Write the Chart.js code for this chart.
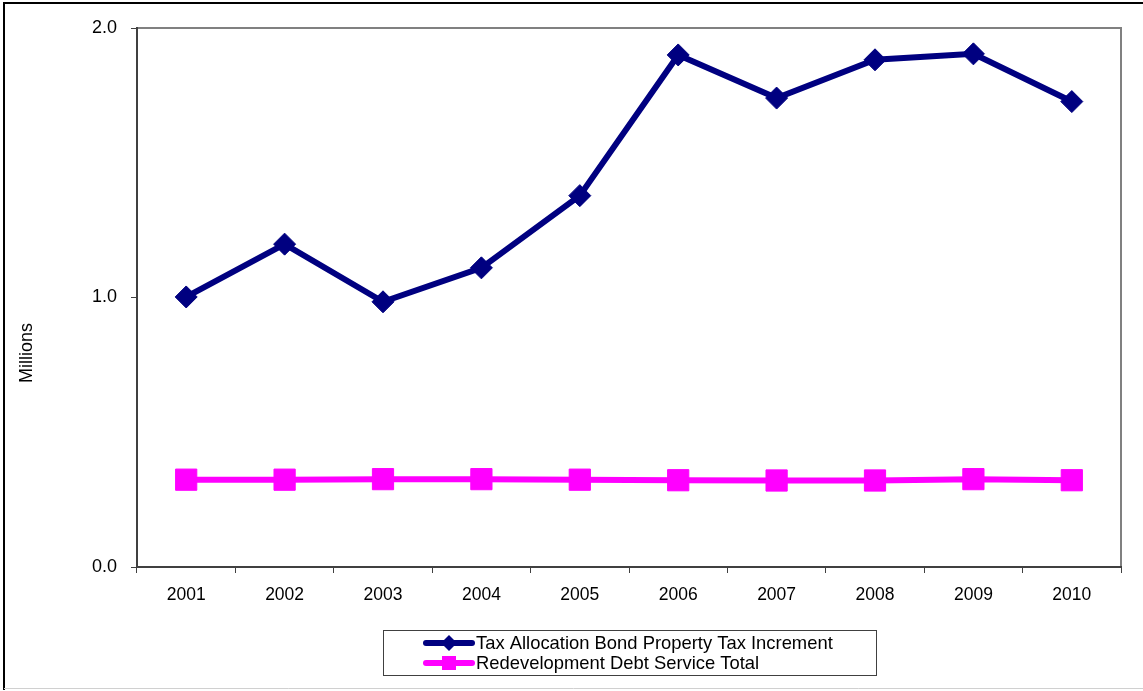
<!DOCTYPE html>
<html>
<head>
<meta charset="utf-8">
<script src="https://cdn.jsdelivr.net/npm/chart.js@4"></script>
<style>
  html, body { margin: 0; padding: 0; background: #fff; }
  #wrap { width: 1143px; height: 691px; position: relative; }
</style>
</head>
<body>
<div id="wrap"><canvas id="taxChart" width="1143" height="691"></canvas></div>
<script>
// chart data
const years = ['2001', '2002', '2003', '2004', '2005', '2006', '2007', '2008', '2009', '2010'];
const taxIncrement = [1.002, 1.198, 0.984, 1.11, 1.378, 1.9, 1.74, 1.882, 1.904, 1.727];
const debtService = [0.324, 0.324, 0.326, 0.326, 0.324, 0.322, 0.321, 0.321, 0.326, 0.322];
const yTicks = [0, 1, 2];

const FONT = '"Liberation Sans", Arial, sans-serif';

// frame, plot border, y title and the boxed legend
const decorations = {
    id: 'decorations',
    beforeDraw(chart) {
        const c = chart.ctx;
        const a = chart.chartArea;
        c.save();
        c.fillStyle = '#fff';
        c.fillRect(0, 0, chart.width, chart.height);
        // outer frame
        c.strokeStyle = '#000';
        c.lineWidth = 2;
        c.beginPath();
        c.moveTo(4, 690);
        c.lineTo(4, 3);
        c.lineTo(1143, 3);
        c.stroke();
        c.strokeStyle = '#d0d0d0';
        c.lineWidth = 1;
        c.beginPath();
        c.moveTo(4, 688.5);
        c.lineTo(1143, 688.5);
        c.stroke();
        // plot area border (top/right grey)
        c.strokeStyle = '#808080';
        c.lineWidth = 2;
        c.beginPath();
        c.moveTo(a.left, a.top);
        c.lineTo(a.right, a.top);
        c.lineTo(a.right, a.bottom);
        c.stroke();
        c.restore();
    },
    afterDraw(chart) {
        const c = chart.ctx;
        c.save();
        // y axis title
        c.fillStyle = '#000';
        c.font = '18px ' + FONT;
        c.textAlign = 'center';
        c.textBaseline = 'middle';
        c.translate(27, 353);
        c.rotate(-Math.PI / 2);
        c.fillText('Millions', 0, 0);
        c.restore();

        // legend
        c.save();
        c.strokeStyle = '#404040';
        c.lineWidth = 1;
        c.strokeRect(383.5, 630.5, 493, 45);
        const rows = [643, 663];
        chart.data.datasets.forEach(function(ds, i) {
            const y = rows[i];
            c.strokeStyle = ds.borderColor;
            c.lineWidth = 6;
            c.lineCap = 'round';
            c.beginPath();
            c.moveTo(426, y);
            c.lineTo(472, y);
            c.stroke();
            c.fillStyle = ds.borderColor;
            c.beginPath();
            if (ds.pointStyle === 'rectRot') {
                c.moveTo(449, y - 8);
                c.lineTo(457, y);
                c.lineTo(449, y + 8);
                c.lineTo(441, y);
                c.closePath();
            } else {
                c.rect(442, y - 7, 14, 14);
            }
            c.fill();
            c.fillStyle = '#000';
            c.font = '18.4px ' + FONT;
            c.textAlign = 'left';
            c.textBaseline = 'middle';
            c.fillText(ds.label, 476, y + 1);
        });
        c.restore();
    }
};

new Chart(document.getElementById('taxChart'), {
    type: 'line',
    data: {
        labels: years,
        datasets: [
            {
                label: 'Tax Allocation Bond Property Tax Increment',
                data: taxIncrement,
                borderColor: '#000080',
                backgroundColor: '#000080',
                borderWidth: 6,
                pointStyle: 'rectRot',
                pointRadius: 11,
                pointBorderWidth: 1,
                tension: 0
            },
            {
                label: 'Redevelopment Debt Service Total',
                data: debtService,
                borderColor: '#ff00ff',
                backgroundColor: '#ff00ff',
                borderWidth: 6,
                pointStyle: 'rect',
                pointRadius: 15,
                pointBorderWidth: 1,
                tension: 0
            }
        ]
    },
    options: {
        responsive: false,
        animation: false,
        events: [],
        layout: {
            padding: { left: 0, top: 28, right: 22, bottom: 84 }
        },
        plugins: {
            legend: { display: false },
            tooltip: { enabled: false }
        },
        scales: {
            x: {
                offset: true,
                grid: {
                    offset: true,
                    drawOnChartArea: false,
                    tickLength: 6,
                    color: '#404040'
                },
                border: { color: '#404040', width: 2 },
                ticks: {
                    color: '#000',
                    padding: 12,
                    maxRotation: 0,
                    font: { family: FONT, size: 17.5 }
                },
                afterFit: function(scale) { scale.height = 40; }
            },
            y: {
                min: 0,
                max: 2,
                afterBuildTicks: function(scale) {
                    scale.ticks = yTicks.map(function(v) { return { value: v }; });
                },
                grid: {
                    drawOnChartArea: false,
                    tickLength: 6,
                    color: '#404040'
                },
                border: { color: '#404040', width: 2 },
                ticks: {
                    color: '#000',
                    padding: 14,
                    font: { family: FONT, size: 18 },
                    callback: function(v) { return Number(v).toFixed(1); }
                },
                afterFit: function(scale) { scale.width = 137; }
            }
        }
    },
    plugins: [decorations]
});
</script>
</body>
</html>
